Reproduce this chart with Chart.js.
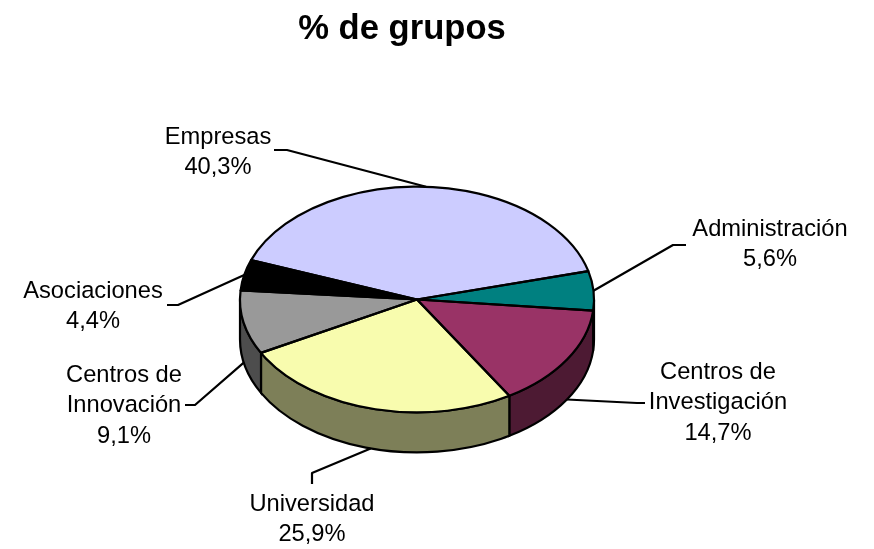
<!DOCTYPE html>
<html lang="es">
<head>
    <meta charset="UTF-8">
    <title>% de grupos</title>
    <script src="https://cdn.jsdelivr.net/npm/chart.js"></script>
    <style>
        body { margin: 0; background: white; }
        canvas { display: block; }
    </style>
</head>
<body>
    <canvas id="pie" width="874" height="549"></canvas>
    <script>
        const chartTitle = '% de grupos';
        const categories = ['Empresas', 'Administración', 'Centros de\nInvestigación', 'Universidad', 'Centros de\nInnovación', 'Asociaciones'];
        const shares = [40.3, 5.6, 14.7, 25.9, 9.1, 4.4];
        const topColors = ['#CCCCFF', '#008080', '#993366', '#F8FCAE', '#999999', '#000000'];
        const sideColors = ['#666680', '#004040', '#4D1A33', '#7D7F58', '#4D4D4D', '#000000'];

        // label centre, first baseline and leader elbow -> end, same order as categories
        const labelLayout = [
            { x: 218, y: 144, elbow: [287, 150], end: [274, 150] },
            { x: 770, y: 236, elbow: [673, 245], end: [686, 245] },
            { x: 718, y: 379, elbow: [637, 403], end: [645, 403] },
            { x: 312, y: 511, elbow: [312, 473], end: [312, 484] },
            { x: 124, y: 382, elbow: [195, 405], end: [185, 405] },
            { x: 93, y: 298, elbow: [178, 305], end: [167, 305] }
        ];

        const squash = 0.638;
        const depth = 40;
        const lineHeight = 30.3;
        const font = '"Liberation Sans", Arial, sans-serif';

        function pieGeometry(chart) {
            const first = chart.getDatasetMeta(0).data[0];
            return { cx: first.x, cy: first.y, rx: first.outerRadius, ry: first.outerRadius * squash };
        }

        const pie3d = {
            id: 'pie3d',
            beforeDatasetsDraw(chart) {
                const ctx = chart.ctx;
                const { cx, cy, rx, ry } = pieGeometry(chart);

                // side wall: only the part of each slice facing the viewer
                ctx.save();
                ctx.lineWidth = 2.2;
                ctx.strokeStyle = '#000';
                chart.getDatasetMeta(0).data.forEach((arc, i) => {
                    [0, 2 * Math.PI].forEach(turn => {
                        const a = Math.max(arc.startAngle, turn);
                        const b = Math.min(arc.endAngle, turn + Math.PI);
                        if (b <= a) return;
                        ctx.beginPath();
                        ctx.ellipse(cx, cy, rx, ry, 0, a, b);
                        ctx.ellipse(cx, cy + depth, rx, ry, 0, b, a, true);
                        ctx.closePath();
                        ctx.fillStyle = sideColors[i];
                        ctx.fill();
                        ctx.stroke();
                    });
                });
                ctx.restore();

                // top face is the library's arcs, flattened
                ctx.save();
                ctx.translate(cx, cy);
                ctx.scale(1, squash);
                ctx.translate(-cx, -cy);
            },
            afterDatasetsDraw(chart) {
                const ctx = chart.ctx;
                ctx.restore();
                const { cx, cy, rx, ry } = pieGeometry(chart);
                const arcs = chart.getDatasetMeta(0).data;

                // slice outlines, stroked unscaled so the width stays even
                ctx.save();
                ctx.lineWidth = 2.2;
                ctx.strokeStyle = '#000';
                ctx.lineJoin = 'round';
                arcs.forEach(arc => {
                    ctx.beginPath();
                    ctx.moveTo(cx, cy);
                    ctx.ellipse(cx, cy, rx, ry, 0, arc.startAngle, arc.endAngle);
                    ctx.closePath();
                    ctx.stroke();
                });

                // leaders start on the pie edge at each slice's middle angle
                arcs.forEach((arc, i) => {
                    const mid = (arc.startAngle + arc.endAngle) / 2;
                    const drop = Math.sin(mid) > 0.05 ? depth : 0;
                    const l = labelLayout[i];
                    ctx.beginPath();
                    ctx.moveTo(cx + rx * Math.cos(mid), cy + ry * Math.sin(mid) + drop);
                    ctx.lineTo(l.elbow[0], l.elbow[1]);
                    ctx.lineTo(l.end[0], l.end[1]);
                    ctx.stroke();
                });

                ctx.fillStyle = '#000';
                ctx.textAlign = 'center';
                ctx.font = '23.7px ' + font;
                categories.forEach((name, i) => {
                    const l = labelLayout[i];
                    const lines = name.split('\n').concat(shares[i].toFixed(1).replace('.', ',') + '%');
                    lines.forEach((line, n) => ctx.fillText(line, l.x, l.y + n * lineHeight));
                });

                ctx.font = 'bold 34.6px ' + font;
                ctx.fillText(chartTitle, 402, 39);
                ctx.restore();
            }
        };

        new Chart(document.getElementById('pie'), {
            type: 'pie',
            data: {
                labels: categories,
                datasets: [{
                    data: shares,
                    backgroundColor: topColors,
                    borderWidth: 0,
                    clip: false
                }]
            },
            options: {
                responsive: false,
                animation: false,
                rotation: 290.4,
                layout: { padding: { left: 240, right: 280, top: 122.5, bottom: 72.5 } },
                plugins: { legend: { display: false }, tooltip: { enabled: false } }
            },
            plugins: [pie3d]
        });
    </script>
</body>
</html>
